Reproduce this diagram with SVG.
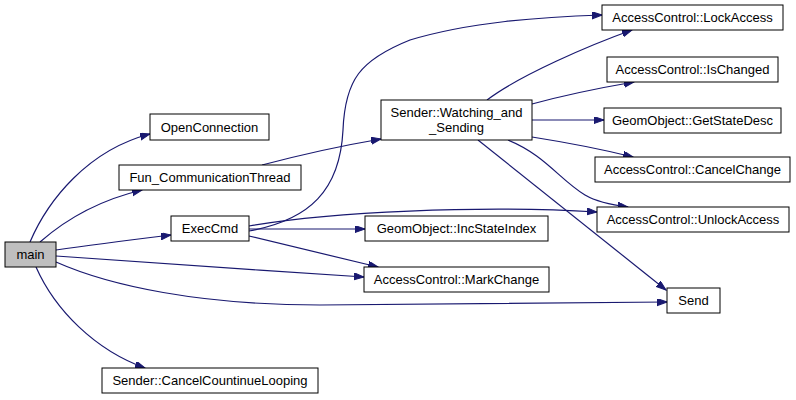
<svg xmlns="http://www.w3.org/2000/svg" width="796" height="400" viewBox="0 0 796 400">
<defs>
<marker id="ah" markerUnits="userSpaceOnUse" markerWidth="11" markerHeight="8" refX="10" refY="3.5" orient="auto">
<path d="M0,0 L10,3.5 L0,7 Z" fill="#191970" stroke="#191970" stroke-width="1"/>
</marker>
<style>
.n rect{fill:#fff;stroke:#000;stroke-width:1}
.m rect{fill:#bfbfbf;stroke:#000;stroke-width:1}
text{font-family:"Liberation Sans",Arial,sans-serif;font-size:13px;fill:#000;text-anchor:middle}
.e path{fill:none;stroke:#191970;stroke-width:1.2;marker-end:url(#ah)}
</style>
</defs>
<rect width="796" height="400" fill="#fff"/>
<g class="e" id="edges">
<path d="M30,242 C48,200 88,150 150,134"/>
<path d="M40,242 C65,220 100,200 142,190"/>
<path d="M56,250 C90,245 130,240 171,235"/>
<path d="M56,256 C130,262 260,270 364,277"/>
<path d="M56,262 C110,286 200,305 320,305 L667,302"/>
<path d="M36,267 C55,310 95,350 145,368"/>
<path d="M262,165 C300,155 340,146 381,139"/>
<path d="M249,226 C330,212 480,205 597,212"/>
<path d="M249,231 C310,220 340,190 343,130 C345,80 360,60 410,40 C470,22 540,17 602,15"/>
<path d="M249,229 L365,229"/>
<path d="M249,236 L378,267"/>
<path d="M487,100 C520,75 590,45 632,30"/>
<path d="M532,104 C565,95 605,87 634,82"/>
<path d="M532,120 L604,120"/>
<path d="M532,137 C570,143 605,150 633,157"/>
<path d="M508,140 C545,155 560,180 585,195 C597,202 612,205 628,207"/>
<path d="M478,140 L666,290"/>
</g>
<g class="m" id="main"><rect x="5" y="242" width="51" height="25"/><text x="30.5" y="259">main</text></g>
<g class="n" id="OpenConnection"><rect x="150" y="114" width="119" height="26"/><text x="209.5" y="132">OpenConnection</text></g>
<g class="n" id="Fun_CommunicationThread"><rect x="119" y="165" width="182" height="25"/><text x="210" y="182">Fun_CommunicationThread</text></g>
<g class="n" id="ExecCmd"><rect x="171" y="216" width="78" height="25"/><text x="210" y="233">ExecCmd</text></g>
<g class="n" id="CancelCountinueLooping"><rect x="102" y="368" width="216" height="25"/><text x="210" y="385">Sender::CancelCountinueLooping</text></g>
<g class="n" id="Watching_and_Sending"><rect x="381" y="100" width="151" height="40"/><text x="456.5" y="117">Sender::Watching_and</text><text x="456.5" y="132">_Sending</text></g>
<g class="n" id="IncStateIndex"><rect x="365" y="216" width="183" height="25"/><text x="456.5" y="233">GeomObject::IncStateIndex</text></g>
<g class="n" id="MarkChange"><rect x="364" y="267" width="185" height="25"/><text x="456.5" y="284">AccessControl::MarkChange</text></g>
<g class="n" id="LockAccess"><rect x="602" y="5" width="181" height="25"/><text x="692.5" y="22">AccessControl::LockAccess</text></g>
<g class="n" id="IsChanged"><rect x="607" y="57" width="171" height="25"/><text x="692.5" y="74">AccessControl::IsChanged</text></g>
<g class="n" id="GetStateDesc"><rect x="604" y="108" width="177" height="25"/><text x="692.5" y="125">GeomObject::GetStateDesc</text></g>
<g class="n" id="CancelChange"><rect x="595" y="157" width="195" height="25"/><text x="692.5" y="174">AccessControl::CancelChange</text></g>
<g class="n" id="UnlockAccess"><rect x="597" y="207" width="192" height="25"/><text x="693" y="224">AccessControl::UnlockAccess</text></g>
<g class="n" id="Send"><rect x="667" y="288" width="53" height="25"/><text x="693.5" y="305">Send</text></g>
</svg>
